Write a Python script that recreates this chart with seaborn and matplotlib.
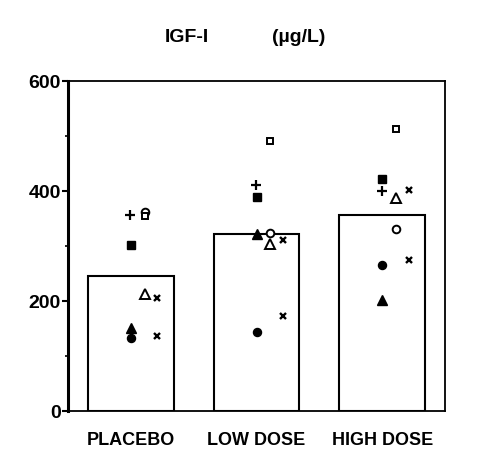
import matplotlib
matplotlib.use("Agg")
import matplotlib.pyplot as plt
import seaborn as sns
import numpy as np
from matplotlib.ticker import MultipleLocator

# ---- data ----
groups = ["PLACEBO", "LOW DOSE", "HIGH DOSE"]
bar_means = [245, 322, 356]

# individual subjects: values for PLACEBO, LOW DOSE, HIGH DOSE
plus_vals        = [356, 410, 400]
filled_sq_vals   = [302, 389, 422]
filled_tri_vals  = [151, 322, 201]
filled_circ_vals = [132, 144, 266]
open_circ_vals   = [361, 323, 331]
open_sq_vals     = [354, 491, 513]
open_tri_vals    = [212, 304, 388]
cross1_vals      = [205, 311, 401]
cross2_vals      = [136, 173, 274]

yticks_major = [0, 200, 400, 600]

# ---- figure ----
sns.set_style("white")
plt.rcParams["font.family"] = ["Liberation Sans", "DejaVu Sans"]
plt.rcParams["text.color"] = "black"
plt.rcParams["xtick.color"] = "black"
plt.rcParams["ytick.color"] = "black"
plt.rcParams["axes.labelcolor"] = "black"

fig = plt.figure(figsize=(4.82, 4.63), dpi=100)
W, H = 482, 463
ax = fig.add_axes([68 / W, 1 - 411 / H, (445 - 68) / W, (411 - 81) / H])

sns.barplot(x=groups, y=bar_means, color="white", edgecolor="black",
            linewidth=1.5, width=0.68, saturation=1, ax=ax, errorbar=None)

xc = np.arange(len(groups))
off_fill, off_open, off_x = 0.0, 0.11, 0.21

def pts(vals, off, **kw):
    ax.plot(xc + off, vals, linestyle="none", zorder=5, **kw)

pts(plus_vals, off_fill - 0.005, marker="+", color="black", markersize=6.5, mew=1.6)
pts(filled_sq_vals, off_fill, marker="s", color="black", markersize=5.2)
pts(filled_tri_vals, off_fill, marker="^", color="black", markersize=7)
pts(filled_circ_vals, off_fill, marker="o", color="black", markersize=5.8)
pts(open_circ_vals, off_open, marker="o", mfc="white", mec="black", markersize=5.5, mew=1.4)
pts(open_sq_vals, off_open, marker="s", mfc="white", mec="black", markersize=5, mew=1.4)
pts(open_tri_vals, off_open, marker="^", mfc="white", mec="black", markersize=7.5, mew=1.4)
pts(cross1_vals, off_x, marker="x", color="black", markersize=3.8, mew=1.7)
pts(cross2_vals, off_x, marker="x", color="black", markersize=3.8, mew=1.7)

ax.set_xlim(-0.5, 2.5)
ax.set_ylim(0, 600)
ax.set_yticks(yticks_major)
ax.yaxis.set_minor_locator(MultipleLocator(100))
ax.set_xlabel("")
ax.set_ylabel("")

for s in ["top", "right", "bottom"]:
    ax.spines[s].set_visible(True)
    ax.spines[s].set_linewidth(1.3)
    ax.spines[s].set_color("black")
ax.spines["left"].set_linewidth(2.2)
ax.spines["left"].set_color("black")

ax.tick_params(axis="y", which="major", direction="out", length=4, width=1.5,
               pad=1, labelsize=14, left=True, colors="black")
ax.tick_params(axis="y", which="minor", direction="out", length=2.5, width=1.2,
               left=True, colors="black")
ax.tick_params(axis="x", length=0, pad=15, labelsize=13, colors="black")
for lab in ax.get_yticklabels() + ax.get_xticklabels():
    lab.set_fontweight("bold")
    lab.set_color("black")

fig.text(165 / W, 1 - 37 / H, "IGF-I", ha="left", va="center",
         fontsize=14, fontweight="bold", color="black")
fig.text(272 / W, 1 - 37 / H, "(µg/L)", ha="left", va="center",
         fontsize=14, fontweight="bold", color="black")

fig.savefig("out.png", dpi=100, facecolor="white")
